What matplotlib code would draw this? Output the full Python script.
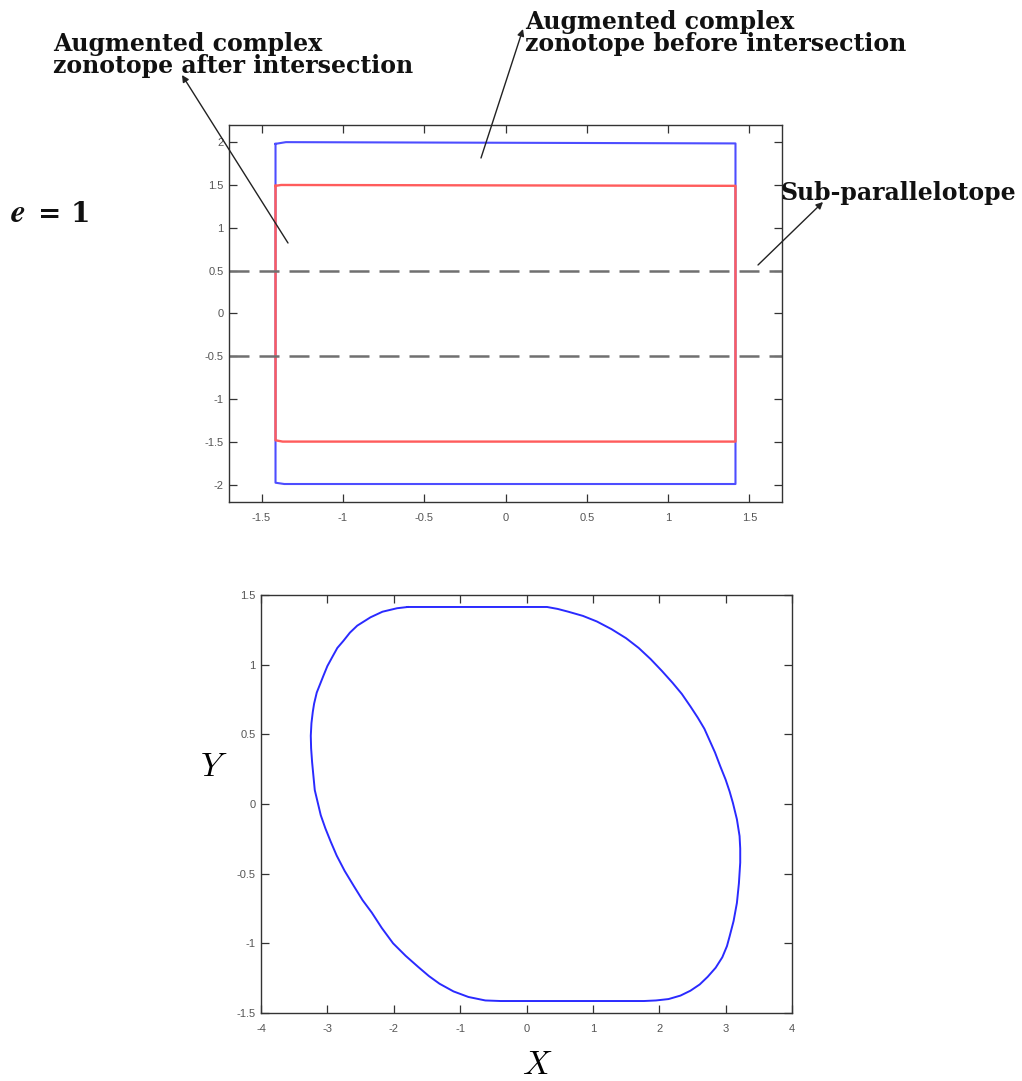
import matplotlib
matplotlib.use("Agg")
import matplotlib.pyplot as plt
from matplotlib.patches import FancyArrowPatch

plt.rcParams['axes.unicode_minus'] = False
plt.rcParams['mathtext.fontset'] = 'cm'

# ---------------- data ----------------
# top panel: augmented zonotope before (blue) and after (red) intersection
blue_x = [-1.414, -1.414, -1.36, 1.414, 1.414, -1.35, -1.414]
blue_y = [1.98, -1.975, -1.99, -1.99, 1.985, 2.0, 1.98]
red_x = [-1.414, -1.414, -1.37, 1.414, 1.414, -1.38, -1.414]
red_y = [1.49, -1.48, -1.495, -1.495, 1.49, 1.50, 1.49]
strip_y = [0.5, -0.5]
top_xticks = [-1.5, -1, -0.5, 0, 0.5, 1, 1.5]
top_xlabels = ['-1.5', '-1', '-0.5', '0', '0.5', '1', '1.5']
top_yticks = [-2, -1.5, -1, -0.5, 0, 0.5, 1, 1.5, 2]
top_ylabels = ['-2', '-1.5', '-1', '-0.5', '0', '0.5', '1', '1.5', '2']

# bottom panel: reachable set outline
set_x = [-1.79, -1.95, -2.17, -2.35, -2.55, -2.66, -2.76, -2.85, -2.92, -3.00,
         -3.06, -3.11, -3.16, -3.20, -3.22, -3.24, -3.25, -3.245, -3.23, -3.21,
         -3.19, -3.15, -3.10, -3.03, -2.95, -2.86, -2.74, -2.60, -2.47, -2.33,
         -2.18, -2.01, -1.82, -1.63, -1.47, -1.31, -1.10, -0.875, -0.62, -0.39,
         1.77, 1.95, 2.14, 2.32, 2.47, 2.61, 2.73, 2.85, 2.95, 3.02,
         3.06, 3.12, 3.17, 3.20, 3.22, 3.22, 3.21, 3.17, 3.11, 3.06,
         3.00, 2.92, 2.84, 2.76, 2.68, 2.58, 2.47, 2.34, 2.20, 2.04,
         1.87, 1.69, 1.50, 1.28, 1.06, 0.85, 0.63, 0.47, 0.31, -1.79]
set_y = [1.414, 1.405, 1.38, 1.34, 1.28, 1.23, 1.17, 1.12, 1.06, 0.99,
         0.92, 0.86, 0.80, 0.72, 0.66, 0.58, 0.49, 0.40, 0.30, 0.20,
         0.10, 0.02, -0.08, -0.175, -0.27, -0.37, -0.48, -0.59, -0.69, -0.78,
         -0.89, -1.0, -1.09, -1.17, -1.235, -1.29, -1.345, -1.385, -1.41, -1.414,
         -1.414, -1.41, -1.40, -1.375, -1.34, -1.295, -1.24, -1.175, -1.10, -1.02,
         -0.95, -0.84, -0.71, -0.57, -0.42, -0.32, -0.23, -0.11, 0.007, 0.09,
         0.175, 0.27, 0.37, 0.455, 0.54, 0.62, 0.70, 0.79, 0.87, 0.955,
         1.04, 1.12, 1.19, 1.255, 1.31, 1.35, 1.38, 1.40, 1.414, 1.414]
bot_xticks = [-4, -3, -2, -1, 0, 1, 2, 3, 4]
bot_xlabels = ['-4', '-3', '-2', '-1', '0', '1', '2', '3', '4']
bot_yticks = [-1.5, -1, -0.5, 0, 0.5, 1, 1.5]
bot_ylabels = ['-1.5', '-1', '-0.5', '0', '0.5', '1', '1.5']

# ---------------- figure ----------------
W, H = 1022, 1081
fig = plt.figure(figsize=(W / 100, H / 100), dpi=100)


def fp(x, y):
    return (x / W, 1 - y / H)


def style(ax, xpad):
    for s in ax.spines.values():
        s.set_color('#333333')
        s.set_linewidth(1.0)
    ax.tick_params(direction='in', length=6, width=0.9, color='#333333',
                   labelsize=8, labelcolor='#555555',
                   top=True, right=True)
    ax.tick_params(axis='x', pad=xpad)
    ax.tick_params(axis='y', pad=4)
    for lab in ax.get_xticklabels() + ax.get_yticklabels():
        lab.set_family('Liberation Sans')


ax1 = fig.add_axes([229 / W, 1 - 502 / H, (782 - 229) / W, (502 - 125) / H])
ax1.plot(blue_x, blue_y, color='#4d4dff', lw=1.5, solid_joinstyle='round')
ax1.plot(red_x, red_y, color='#ff5c5c', lw=1.7, solid_joinstyle='round')
for yv in strip_y:
    ax1.axhline(yv, color='#707070', lw=1.8, dashes=(8, 4))
ax1.set_xlim(-1.7, 1.7)
ax1.set_ylim(-2.2, 2.2)
ax1.set_xticks(top_xticks, top_xlabels)
ax1.set_yticks(top_yticks, top_ylabels)
style(ax1, 8)

ax2 = fig.add_axes([261 / W, 1 - 1013 / H, (792 - 261) / W, (1013 - 595) / H])
ax2.plot(set_x, set_y, color='#2a2aff', lw=1.4, solid_joinstyle='round')
ax2.set_xlim(-4, 4)
ax2.set_ylim(-1.5, 1.5)
ax2.set_xticks(bot_xticks, bot_xlabels)
ax2.set_yticks(bot_yticks, bot_ylabels)
style(ax2, 8)

# ---------------- text & annotations ----------------
tfont = dict(family='DejaVu Serif', weight='bold', fontsize=17,
             color='#111111')
arrow = dict(arrowstyle='-|>', color='#222222', lw=1.0, mutation_scale=10,
             shrinkA=0, shrinkB=0)

fig.text(*fp(53, 73), 'Augmented complex\nzonotope after intersection',
         ha='left', va='baseline', linespacing=0.9, **tfont)
fig.text(*fp(525, 51), 'Augmented complex\nzonotope before intersection',
         ha='left', va='baseline', linespacing=0.9, **tfont)
fig.text(*fp(780, 200), 'Sub-parallelotope', ha='left', va='baseline', **tfont)

fig.add_artist(FancyArrowPatch(fp(288, 243), fp(182, 75),
                               transform=fig.transFigure, **arrow))
fig.add_artist(FancyArrowPatch(fp(481, 158), fp(523, 29),
                               transform=fig.transFigure, **arrow))
fig.add_artist(FancyArrowPatch(fp(758, 265), fp(823, 202),
                               transform=fig.transFigure, **arrow))

fig.text(*fp(10, 222), r'$\boldsymbol{e}$', ha='left',
         va='baseline', fontsize=24, color='#111111')
fig.text(*fp(38, 222), '= 1', ha='left', va='baseline', family='DejaVu Serif',
         weight='bold', fontsize=20, color='#111111')
fig.text(*fp(214, 766), r'$Y$', ha='center', va='center', fontsize=24)
fig.text(*fp(537, 1065), r'$X$', ha='center', va='center', fontsize=24)

fig.savefig('out.png', dpi=100)
